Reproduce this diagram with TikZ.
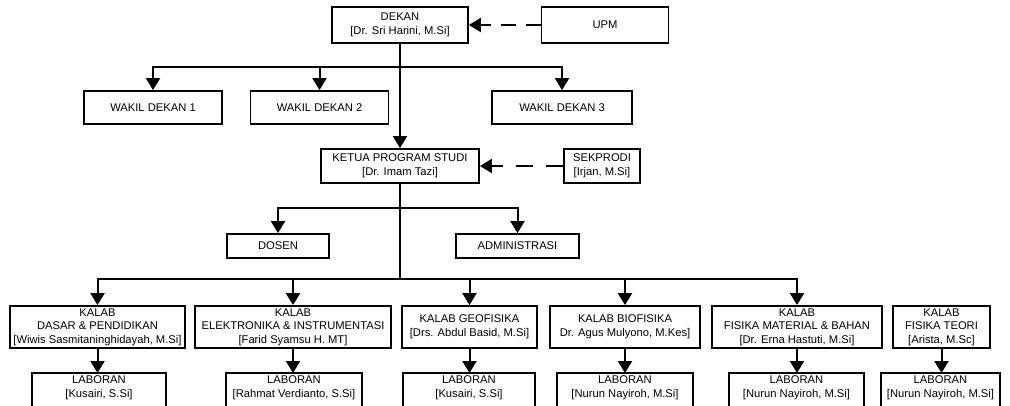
\documentclass[tikz,border=0pt]{standalone}
\usepackage{fontspec}
\setmainfont{Liberation Sans}
\usetikzlibrary{arrows.meta}
\tikzset{
  box/.style={draw, line width=1.8pt, rectangle, inner sep=0pt, align=center,
    font=\fontsize{11.2}{13.6}\selectfont},
  labbox/.style={draw=none, rectangle, inner xsep=0pt, inner ysep=2.5pt, align=center, anchor=north,
    font=\fontsize{11.2}{13.6}\selectfont},
  conn/.style={line width=2pt},
  arr/.style={line width=2pt, -{Triangle[length=12pt,width=14pt]}},
  darr/.style={arr, dash pattern=on 15pt off 10pt},
  darrb/.style={arr, dash pattern=on 17pt off 13pt},
}
\begin{document}
\begin{tikzpicture}[x=1pt,y=-1pt]
\useasboundingbox (0,0) rectangle (1010,405);
% top
\node[box, minimum width=136, minimum height=36] (dekan) at (400,25) {DEKAN\\{}[Dr. Sri Harini, M.Si]};
\node[box, minimum width=127, minimum height=36] (upm) at (605,25) {UPM};
\node[box, minimum width=138, minimum height=33] (wd1) at (153,107.5) {WAKIL DEKAN 1};
\node[box, minimum width=138, minimum height=33] (wd2) at (319.5,107.5) {WAKIL DEKAN 2};
\node[box, minimum width=140, minimum height=33] (wd3) at (562,107.5) {WAKIL DEKAN 3};
\node[box, minimum width=158, minimum height=34] (kps) at (400,166) {KETUA PROGRAM STUDI\\{}[Dr. Imam Tazi]};
\node[box, minimum width=76, minimum height=34] (sek) at (602,166) {SEKPRODI\\{}[Irjan, M.Si]};
\node[box, minimum width=102, minimum height=24] (dosen) at (278,246) {DOSEN};
\node[box, minimum width=123, minimum height=24] (admin) at (517.5,246) {ADMINISTRASI};
% kalab
\node[box, minimum width=175, minimum height=42] (k1) at (97.5,327) {KALAB\\DASAR \& PENDIDIKAN\\{}[Wiwis Sasmitaninghidayah, M.Si]};
\node[box, minimum width=196, minimum height=42] (k2) at (293,327) {KALAB\\ELEKTRONIKA \& INSTRUMENTASI\\{}[Farid Syamsu H. MT]};
\node[box, minimum width=135, minimum height=42] (k3) at (469.5,327) {KALAB GEOFISIKA\\{}[Drs. Abdul Basid, M.Si]};
\node[box, minimum width=150, minimum height=42] (k4) at (625,327) {KALAB BIOFISIKA\\Dr. Agus Mulyono, M.Kes]};
\node[box, minimum width=170, minimum height=42] (k5) at (797,327) {KALAB\\FISIKA MATERIAL \& BAHAN\\{}[Dr. Erna Hastuti, M.Si]};
\node[box, minimum width=97, minimum height=42] (k6) at (941.5,327) {KALAB\\FISIKA TEORI\\{}[Arista, M.Sc]};
% laboran
\node[labbox, minimum width=134] (l1) at (99,373) {LABORAN\\{}[Kusairi, S.Si]};
\node[labbox, minimum width=136] (l2) at (294,373) {LABORAN\\{}[Rahmat Verdianto, S.Si]};
\node[labbox, minimum width=132] (l3) at (469,373) {LABORAN\\{}[Kusairi, S.Si]};
\node[labbox, minimum width=136] (l4) at (625,373) {LABORAN\\{}[Nurun Nayiroh, M.Si]};
\node[labbox, minimum width=135] (l5) at (796.5,373) {LABORAN\\{}[Nurun Nayiroh, M.Si]};
\node[labbox, minimum width=119] (l6) at (940.5,373) {LABORAN\\{}[Nurun Nayiroh, M.Si]};
\foreach \n in {l1,l2,l3,l4,l5,l6}
  \draw[line width=1.8pt] (\n.north west) rectangle ([yshift=-15pt]\n.south east);
% connectors
\coordinate (bA) at (400,67);
\coordinate (bB) at (400,208);
\coordinate (bC) at (400,279);
\draw[arr] (dekan.south) -- (kps.north);
\draw[arr] (bA) -| (wd1.north);
\draw[arr] (bA) -| (wd2.north);
\draw[arr] (bA) -| (wd3.north);
\draw[darr] (upm.west) -- (dekan.east);
\draw[darrb] (sek.west) -- (kps.east);
\draw[conn] (kps.south) -- (bC);
\draw[arr] (bB) -| (dosen.north);
\draw[arr] (bB) -| (admin.north);
\draw[arr] (bC) -| (k1.north);
\draw[arr] (bC) -| (k2.north);
\draw[arr] (bC) -| (k3.north);
\draw[arr] (bC) -| (k4.north);
\draw[arr] (bC) -| (k5.north);
\foreach \k/\l in {k1/l1,k2/l2,k3/l3,k4/l4,k5/l5,k6/l6}
  \draw[arr] (\k.south) -- (\k.south |- \l.north);
\end{tikzpicture}
\end{document}
